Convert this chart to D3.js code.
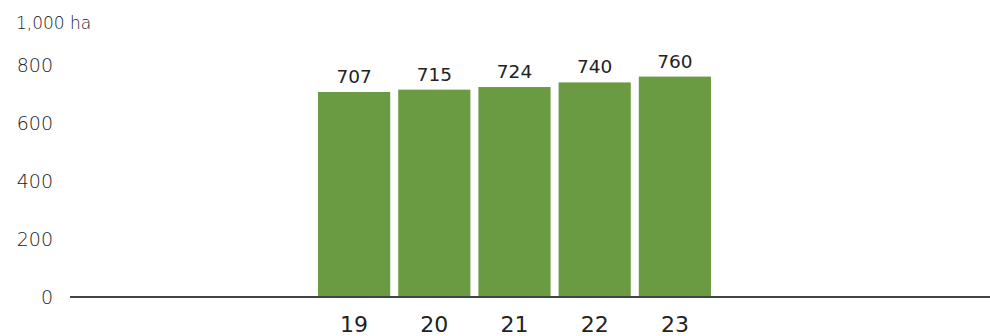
<!DOCTYPE html>
<html><head><meta charset="utf-8">
<script src="https://cdn.jsdelivr.net/npm/d3@7"></script>
<style>body{margin:0;background:#fff}svg{display:block}</style>
</head><body>
<svg id="c" width="990" height="336"></svg>
<script>
const categories = ["19","20","21","22","23"];
const values = [707,715,724,740,760];
const yTicks = [0,200,400,600,800];
const unitLabel = "1,000 ha";

const svg = d3.select("#c");
const font = "'DejaVu Sans', Verdana, sans-serif";
const y = d3.scaleLinear().domain([0,800]).range([297,65]);
const x = d3.scaleBand().domain(categories).range([314,715]).paddingInner(0.1).paddingOuter(0.05);

svg.append("text").attr("x",16).attr("y",29).text(unitLabel)
  .attr("font-family",font).attr("font-weight",300).attr("font-size",17).attr("fill","#222");

const yAxis = d3.axisLeft(y).tickValues(yTicks).tickFormat(d3.format("d")).tickSize(0).tickPadding(0);
const ya = svg.append("g").attr("transform","translate(53,0)").call(yAxis);
ya.select(".domain").remove();
ya.selectAll("text").attr("font-family",font).attr("font-weight",300).attr("font-size",19).attr("fill","#222").attr("dy","0.36em");

svg.selectAll("rect.bar").data(values).join("rect").attr("class","bar")
  .attr("x",(d,i)=>x(categories[i])).attr("width",x.bandwidth())
  .attr("y",d=>y(d)).attr("height",d=>y(0)-y(d)).attr("fill","#6a9a42");

svg.selectAll("text.val").data(values).join("text").attr("class","val")
  .attr("x",(d,i)=>x(categories[i])+x.bandwidth()/2).attr("y",d=>y(d)-9)
  .attr("text-anchor","middle").text(d=>d)
  .attr("font-family",font).attr("font-size",18.5).attr("fill","#222");

const xAxis = d3.axisBottom(x).tickSize(0).tickPadding(0);
const xa = svg.append("g").attr("transform","translate(0,297)").call(xAxis);
xa.select(".domain").remove();
xa.selectAll("text").attr("font-family",font).attr("font-size",22).attr("fill","#222").attr("dy",0).attr("y",35);

svg.append("line").attr("x1",70).attr("x2",990).attr("y1",y(0)).attr("y2",y(0))
  .attr("stroke","#444").attr("stroke-width",2);
</script>
</body></html>
